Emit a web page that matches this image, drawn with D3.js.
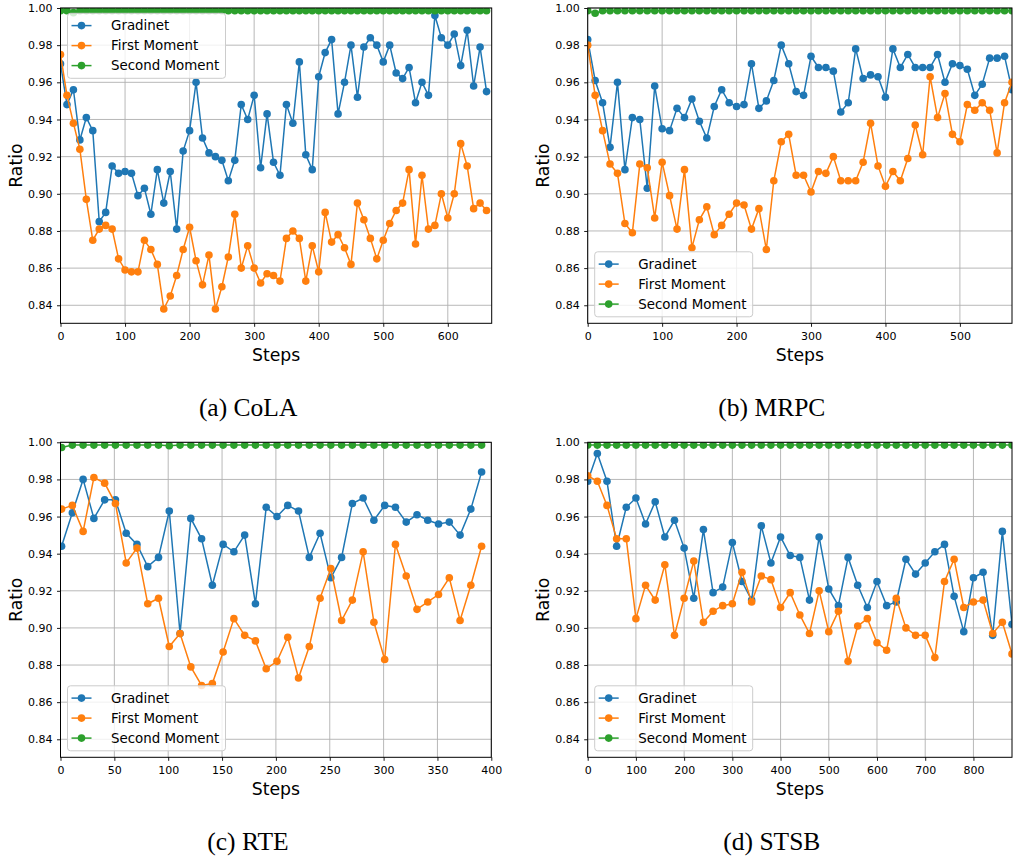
<!DOCTYPE html>
<html>
<head>
<meta charset="utf-8">
<script src="https://cdn.jsdelivr.net/npm/d3@7"></script>
<style>
  body { margin: 0; background: #fff; }
  svg { display: block; }
  text { font-family: "DejaVu Sans", sans-serif; }
  text.caption { font-family: "Liberation Serif", serif; }
</style>
</head>
<body>
<div id="chart"></div>
<script>
// ---- data ----
var seriesNames = ["Gradinet", "First Moment", "Second Moment"];
var seriesColors = ["#1f77b4", "#ff7f0e", "#2ca02c"];
var yTicks = [0.84, 0.86, 0.88, 0.90, 0.92, 0.94, 0.96, 0.98, 1.00];

// (a) CoLA, logged every 10 steps
var colaSteps = d3.range(0, 661, 10);
var colaGradinet = [0.970, 0.948, 0.956, 0.929, 0.941, 0.934, 0.885, 0.890, 0.915, 0.911,
  0.912, 0.911, 0.899, 0.903, 0.889, 0.913, 0.895, 0.912, 0.881, 0.923,
  0.934, 0.960, 0.930, 0.922, 0.920, 0.918, 0.907, 0.918, 0.948, 0.940,
  0.953, 0.914, 0.943, 0.917, 0.910, 0.948, 0.938, 0.971, 0.921, 0.913,
  0.963, 0.976, 0.983, 0.943, 0.960, 0.980, 0.952, 0.979, 0.984, 0.980,
  0.971, 0.980, 0.965, 0.962, 0.968, 0.949, 0.960, 0.953, 0.996, 0.984,
  0.980, 0.986, 0.969, 0.988, 0.958, 0.979, 0.955];
var colaFirst = [0.975, 0.953, 0.938, 0.924, 0.897, 0.875, 0.881, 0.883, 0.881, 0.865,
  0.859, 0.858, 0.858, 0.875, 0.870, 0.862, 0.838, 0.845, 0.856, 0.870,
  0.882, 0.864, 0.851, 0.867, 0.838, 0.850, 0.866, 0.889, 0.860, 0.872,
  0.860, 0.852, 0.857, 0.856, 0.853, 0.876, 0.880, 0.876, 0.853, 0.872,
  0.858, 0.890, 0.874, 0.878, 0.871, 0.862, 0.895, 0.886, 0.876, 0.865,
  0.875, 0.884, 0.891, 0.895, 0.913, 0.873, 0.910, 0.881, 0.883, 0.900,
  0.887, 0.900, 0.927, 0.915, 0.892, 0.895, 0.891];
var colaSecond = [0.9985, 0.9985, 0.9975, 0.9985, 0.9985, 0.9985, 0.9985, 0.9985, 0.9985, 0.9985,
  0.9985, 0.9985, 0.9985, 0.9985, 0.9985, 0.9985, 0.9985, 0.9985, 0.9985, 0.9985,
  0.9985, 0.9985, 0.9985, 0.9985, 0.9985, 0.9985, 0.9985, 0.9985, 0.9985, 0.9985,
  0.9985, 0.9985, 0.9985, 0.9985, 0.9985, 0.9985, 0.9985, 0.9985, 0.9985, 0.9985,
  0.9985, 0.9985, 0.9985, 0.9985, 0.9985, 0.9985, 0.9985, 0.9985, 0.9985, 0.9985,
  0.9985, 0.9985, 0.9985, 0.9985, 0.9985, 0.9985, 0.9985, 0.9985, 0.9985, 0.9985,
  0.9985, 0.9985, 0.9985, 0.9985, 0.9985, 0.9985, 0.9985];

// (b) MRPC, every 10 steps
var mrpcSteps = d3.range(0, 571, 10);
var mrpcGradinet = [0.983, 0.961, 0.949, 0.925, 0.960, 0.913, 0.941, 0.940, 0.903, 0.958,
  0.935, 0.934, 0.946, 0.941, 0.951, 0.939, 0.930, 0.947, 0.956, 0.949,
  0.947, 0.948, 0.970, 0.946, 0.950, 0.961, 0.980, 0.970, 0.955, 0.953,
  0.974, 0.968, 0.968, 0.966, 0.944, 0.949, 0.978, 0.962, 0.964, 0.963,
  0.952, 0.978, 0.968, 0.975, 0.968, 0.968, 0.968, 0.975, 0.960, 0.970,
  0.969, 0.967, 0.953, 0.959, 0.973, 0.973, 0.974, 0.956];
var mrpcFirst = [0.980, 0.953, 0.934, 0.916, 0.911, 0.884, 0.879, 0.916, 0.914, 0.887,
  0.917, 0.899, 0.881, 0.913, 0.871, 0.886, 0.893, 0.878, 0.883, 0.889,
  0.895, 0.894, 0.881, 0.892, 0.870, 0.907, 0.928, 0.932, 0.910, 0.910,
  0.901, 0.912, 0.911, 0.920, 0.907, 0.907, 0.907, 0.917, 0.938, 0.915,
  0.904, 0.912, 0.907, 0.919, 0.937, 0.921, 0.963, 0.941, 0.954, 0.932,
  0.928, 0.948, 0.945, 0.949, 0.945, 0.922, 0.949, 0.960];
var mrpcSecond = [0.9985, 0.9972, 0.9985, 0.9985, 0.9985, 0.9985, 0.9985, 0.9985, 0.9985, 0.9985,
  0.9985, 0.9985, 0.9985, 0.9985, 0.9985, 0.9985, 0.9985, 0.9985, 0.9985, 0.9985,
  0.9985, 0.9985, 0.9985, 0.9985, 0.9985, 0.9985, 0.9985, 0.9985, 0.9985, 0.9985,
  0.9985, 0.9985, 0.9985, 0.9985, 0.9985, 0.9985, 0.9985, 0.9985, 0.9985, 0.9985,
  0.9985, 0.9985, 0.9985, 0.9985, 0.9985, 0.9985, 0.9985, 0.9985, 0.9985, 0.9985,
  0.9985, 0.9985, 0.9985, 0.9985, 0.9985, 0.9985, 0.9985, 0.9985];

// (c) RTE, steps 1, 11, 21 ...
var rteSteps = d3.range(1, 392, 10);
var rteGradinet = [0.944, 0.962, 0.980, 0.959, 0.969, 0.969, 0.951, 0.945, 0.933, 0.938,
  0.963, 0.897, 0.959, 0.948, 0.923, 0.945, 0.941, 0.950, 0.913, 0.965,
  0.960, 0.966, 0.963, 0.938, 0.951, 0.927, 0.938, 0.967, 0.970, 0.958,
  0.966, 0.965, 0.957, 0.961, 0.958, 0.956, 0.957, 0.950, 0.964, 0.984];
var rteFirst = [0.964, 0.966, 0.952, 0.981, 0.978, 0.967, 0.935, 0.943, 0.913, 0.916,
  0.890, 0.897, 0.879, 0.869, 0.870, 0.887, 0.905, 0.896, 0.893, 0.878,
  0.882, 0.895, 0.873, 0.890, 0.916, 0.932, 0.904, 0.915, 0.941, 0.903,
  0.883, 0.945, 0.928, 0.910, 0.914, 0.918, 0.927, 0.904, 0.923, 0.944];
var rteSecond = [0.9972, 0.9985, 0.9985, 0.9985, 0.9985, 0.9985, 0.9985, 0.9985, 0.9985, 0.9985,
  0.9982, 0.9985, 0.9985, 0.9985, 0.9985, 0.9985, 0.9985, 0.9985, 0.9985, 0.9985,
  0.9985, 0.9985, 0.9985, 0.9985, 0.9985, 0.9985, 0.9985, 0.9985, 0.9985, 0.9985,
  0.9985, 0.9985, 0.9985, 0.9985, 0.9985, 0.9985, 0.9985, 0.9985, 0.9985, 0.9985];

// (d) STSB, every 20 steps
var stsbSteps = d3.range(0, 881, 20);
var stsbGradinet = [0.979, 0.994, 0.979, 0.944, 0.965, 0.970, 0.956, 0.968, 0.949, 0.958,
  0.943, 0.916, 0.953, 0.919, 0.922, 0.946, 0.925, 0.915, 0.955, 0.935,
  0.949, 0.939, 0.938, 0.915, 0.949, 0.921, 0.912, 0.938, 0.923, 0.911,
  0.925, 0.912, 0.914, 0.937, 0.929, 0.935, 0.941, 0.945, 0.917, 0.898,
  0.927, 0.930, 0.896, 0.952, 0.902];
var stsbFirst = [0.982, 0.979, 0.966, 0.948, 0.948, 0.905, 0.923, 0.915, 0.934, 0.896,
  0.916, 0.936, 0.903, 0.909, 0.912, 0.913, 0.930, 0.914, 0.928, 0.926,
  0.911, 0.919, 0.907, 0.897, 0.920, 0.898, 0.909, 0.882, 0.901, 0.905,
  0.892, 0.888, 0.916, 0.900, 0.896, 0.896, 0.884, 0.925, 0.937, 0.911,
  0.914, 0.915, 0.897, 0.903, 0.886];
var stsbSecond = [0.9985, 0.9985, 0.9985, 0.9985, 0.9985, 0.9985, 0.9985, 0.9985, 0.9985, 0.9985,
  0.9985, 0.9985, 0.9985, 0.9985, 0.9985, 0.9985, 0.9985, 0.9985, 0.9985, 0.9985,
  0.9985, 0.9985, 0.9985, 0.9985, 0.9985, 0.9985, 0.9985, 0.9985, 0.9985, 0.9985,
  0.9985, 0.9985, 0.9985, 0.9985, 0.9985, 0.9985, 0.9985, 0.9985, 0.9985, 0.9985,
  0.9985, 0.9985, 0.9985, 0.9985, 0.9985];

var panels = [
  {id: "a", caption: "(a) CoLA", steps: colaSteps, series: [colaGradinet, colaFirst, colaSecond],
   xMax: 668, xTicks: [0, 100, 200, 300, 400, 500, 600], legend: "top",
   left: 60.5, right: 491.7, top: 8, bottom: 323.3},
  {id: "b", caption: "(b) MRPC", steps: mrpcSteps, series: [mrpcGradinet, mrpcFirst, mrpcSecond],
   xMax: 570, xTicks: [0, 100, 200, 300, 400, 500], legend: "bottom",
   left: 587.7, right: 1012, top: 8, bottom: 323.3},
  {id: "c", caption: "(c) RTE", steps: rteSteps, series: [rteGradinet, rteFirst, rteSecond],
   xMax: 400, xTicks: [0, 50, 100, 150, 200, 250, 300, 350, 400], legend: "bottom",
   left: 60.5, right: 491.3, top: 442.3, bottom: 757.3},
  {id: "d", caption: "(d) STSB", steps: stsbSteps, series: [stsbGradinet, stsbFirst, stsbSecond],
   xMax: 880, xTicks: [0, 100, 200, 300, 400, 500, 600, 700, 800], legend: "bottom",
   left: 587.7, right: 1012, top: 442.3, bottom: 757.3}
];

var svg = d3.select("#chart").append("svg")
  .attr("width", 1014)
  .attr("height", 859);

function drawPanel(p) {
  var x = d3.scaleLinear().domain([0, p.xMax]).range([p.left, p.right]);
  var y = d3.scaleLinear().domain([0.8303, 1.0]).range([p.bottom, p.top]);
  var g = svg.append("g").attr("class", "panel-" + p.id);

  g.append("clipPath").attr("id", "clip-" + p.id)
    .append("rect")
    .attr("x", p.left).attr("y", p.top)
    .attr("width", p.right - p.left).attr("height", p.bottom - p.top);

  // grid
  var grid = g.append("g").attr("stroke", "#b0b0b0").attr("stroke-width", 0.9);
  grid.selectAll(".gx").data(p.xTicks).join("line")
    .attr("x1", d => x(d)).attr("x2", d => x(d))
    .attr("y1", p.top).attr("y2", p.bottom);
  grid.selectAll(".gy").data(yTicks).join("line")
    .attr("x1", p.left).attr("x2", p.right)
    .attr("y1", d => y(d)).attr("y2", d => y(d));

  // axes
  var xAxis = g.append("g")
    .attr("transform", "translate(0," + p.bottom + ")")
    .call(d3.axisBottom(x).tickValues(p.xTicks).tickFormat(d3.format("d")).tickSize(3.5).tickPadding(5));
  var yAxis = g.append("g")
    .attr("transform", "translate(" + p.left + ",0)")
    .call(d3.axisLeft(y).tickValues(yTicks).tickFormat(d3.format(".2f")).tickSize(3.5).tickPadding(4.5));
  [xAxis, yAxis].forEach(function(a) {
    a.select(".domain").remove();
    a.selectAll("line").attr("stroke", "#000").attr("stroke-width", 0.9);
    a.selectAll("text").attr("font-size", 11).attr("fill", "#000");
  });

  // series
  var plot = g.append("g").attr("clip-path", "url(#clip-" + p.id + ")");
  p.series.forEach(function(vals, i) {
    var pts = vals.map(function(v, k) { return [p.steps[k], v]; });
    var sg = plot.append("g");
    sg.append("path")
      .datum(pts)
      .attr("fill", "none")
      .attr("stroke", seriesColors[i])
      .attr("stroke-width", 1.5)
      .attr("d", d3.line().x(d => x(d[0])).y(d => y(d[1])));
    sg.selectAll("circle").data(pts).join("circle")
      .attr("cx", d => x(d[0]))
      .attr("cy", d => y(d[1]))
      .attr("r", 3.8)
      .attr("fill", seriesColors[i]);
  });

  // spines
  g.append("rect")
    .attr("x", p.left).attr("y", p.top)
    .attr("width", p.right - p.left).attr("height", p.bottom - p.top)
    .attr("fill", "none").attr("stroke", "#000").attr("stroke-width", 1);

  // legend
  var lw = 158, lh = 65;
  var lx = p.left + 7;
  var ly = p.legend === "top" ? p.top + 5.3 : p.bottom - 6.5 - lh;
  var leg = g.append("g").attr("transform", "translate(" + lx + "," + ly + ")");
  leg.append("rect")
    .attr("width", lw).attr("height", lh).attr("rx", 3)
    .attr("fill", "#fff").attr("fill-opacity", 0.8)
    .attr("stroke", "#cccccc").attr("stroke-width", 1);
  seriesNames.forEach(function(name, i) {
    var cy = 12.3 + i * 20;
    leg.append("line")
      .attr("x1", 4).attr("x2", 24).attr("y1", cy).attr("y2", cy)
      .attr("stroke", seriesColors[i]).attr("stroke-width", 1.5);
    leg.append("circle").attr("cx", 14).attr("cy", cy).attr("r", 3.8).attr("fill", seriesColors[i]);
    leg.append("text")
      .attr("x", 43.5).attr("y", cy)
      .attr("dy", "0.36em")
      .attr("font-size", 13.4)
      .text(name);
  });

  // axis titles
  g.append("text")
    .attr("x", (p.left + p.right) / 2)
    .attr("y", p.bottom + 37.5)
    .attr("text-anchor", "middle")
    .attr("font-size", 17.3)
    .text("Steps");
  g.append("text")
    .attr("transform", "translate(" + (p.left - 38.5) + "," + ((p.top + p.bottom) / 2) + ") rotate(-90)")
    .attr("text-anchor", "middle")
    .attr("font-size", 17.3)
    .text("Ratio");

  // caption
  g.append("text")
    .attr("class", "caption")
    .attr("x", (p.left + p.right) / 2 - 28)
    .attr("y", p.bottom + 92.5)
    .attr("text-anchor", "middle")
    .attr("font-size", 25.5)
    .text(p.caption);
}

panels.forEach(drawPanel);
</script>
</body>
</html>
